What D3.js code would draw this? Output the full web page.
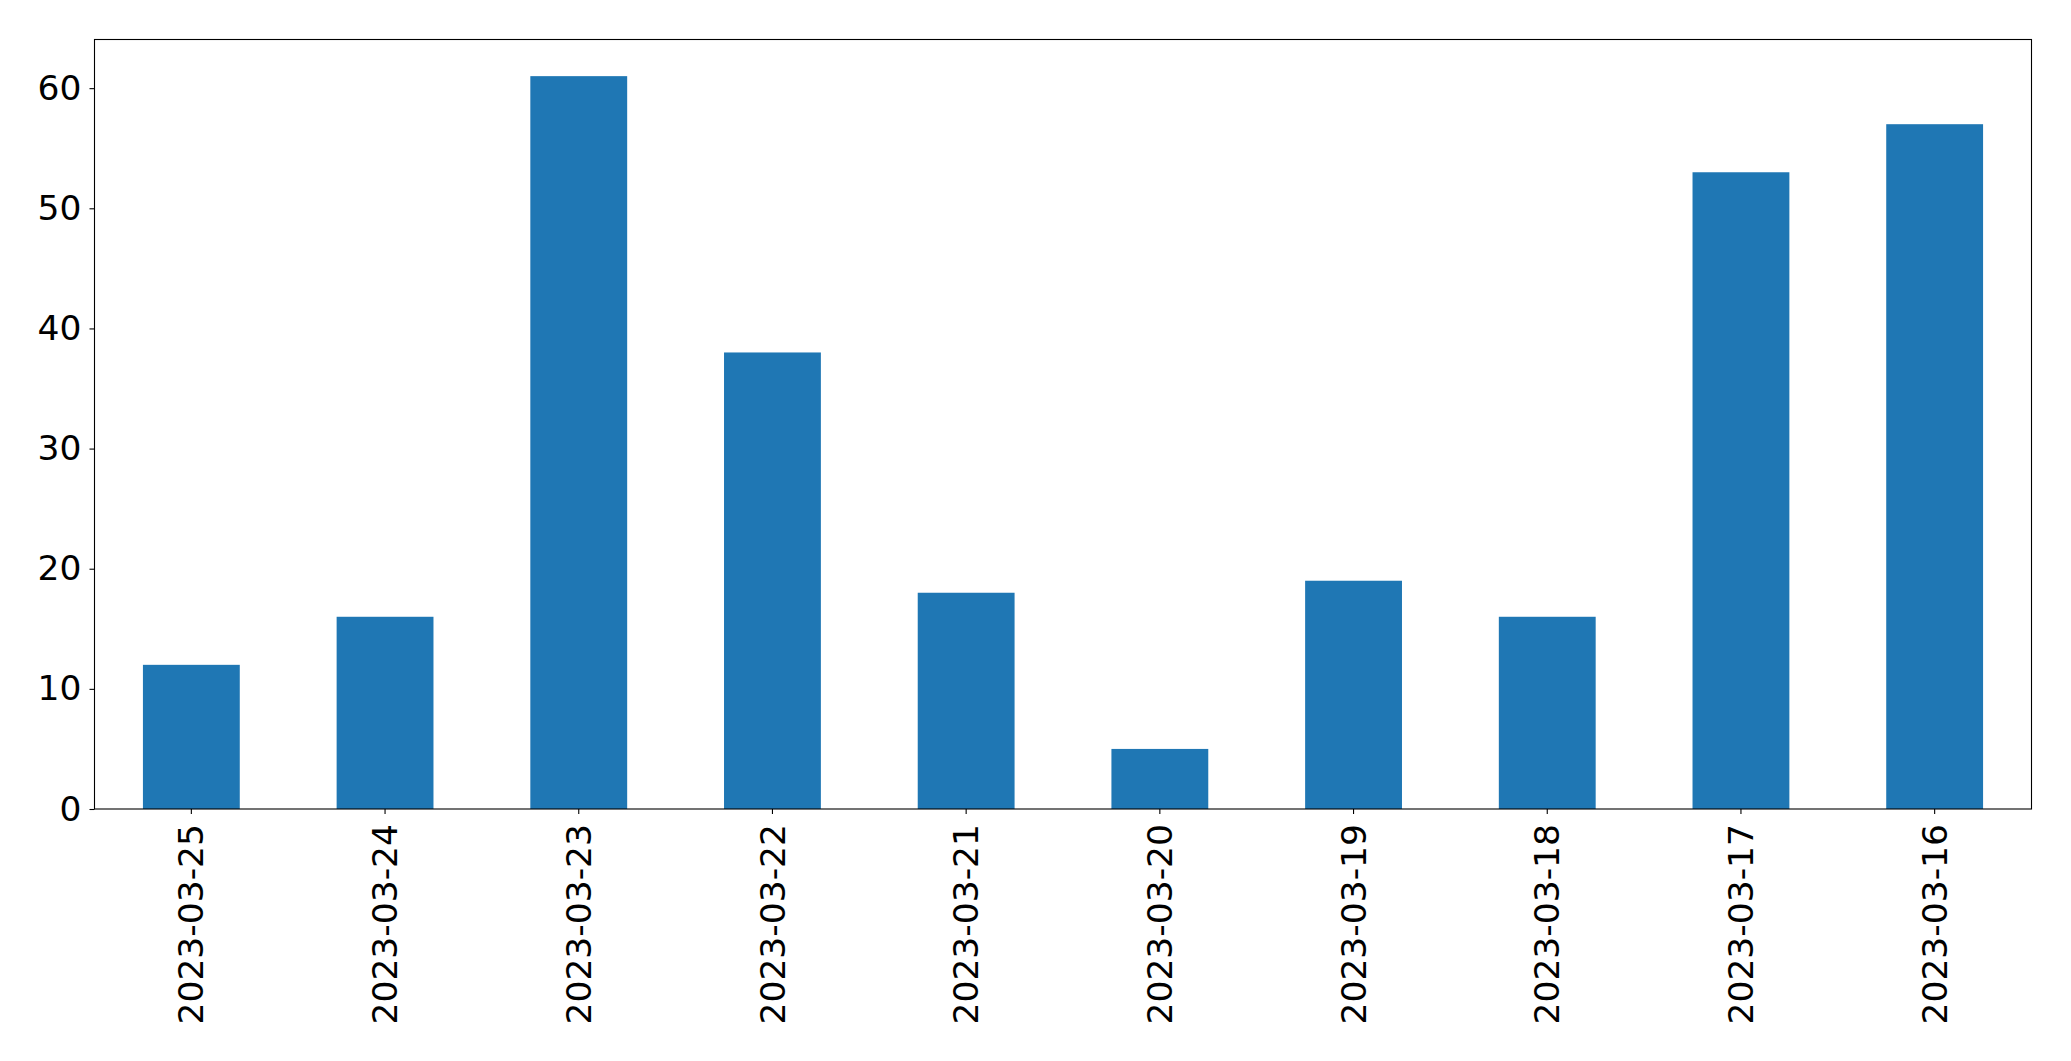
<!DOCTYPE html>
<html>
<head>
<meta charset="utf-8">
<script src="https://cdn.jsdelivr.net/npm/d3@7"></script>
<style>
  html, body { margin: 0; padding: 0; background: #fff; }
  #chart text { font-family: "DejaVu Sans", sans-serif; fill: #000; }
</style>
</head>
<body>
<div id="chart"></div>
<script>
// Data
const dates = ["2023-03-25", "2023-03-24", "2023-03-23", "2023-03-22", "2023-03-21",
               "2023-03-20", "2023-03-19", "2023-03-18", "2023-03-17", "2023-03-16"];
const counts = [12, 16, 61, 38, 18, 5, 19, 16, 53, 57];
const yTicks = [0, 10, 20, 30, 40, 50, 60];

const dataset = dates.map((d, i) => ({ date: d, value: counts[i] }));

// Dimensions
const dimensions = {
  width: 2071,
  height: 1061,
  margin: { top: 39.5, right: 39.5, bottom: 252, left: 94.5 }
};
dimensions.containerWidth = dimensions.width - dimensions.margin.left - dimensions.margin.right;
dimensions.containerHeight = dimensions.height - dimensions.margin.top - dimensions.margin.bottom;

const svg = d3.select("#chart")
  .append("svg")
  .attr("width", dimensions.width)
  .attr("height", dimensions.height);

const container = svg.append("g")
  .attr("transform", `translate(${dimensions.margin.left}, ${dimensions.margin.top})`);

// Scales
const xScale = d3.scaleBand()
  .domain(dates)
  .range([0, dimensions.containerWidth])
  .paddingInner(0.5)
  .paddingOuter(0.25);

const yMax = d3.max(counts) * 1.05;
const yScale = d3.scaleLinear()
  .domain([0, yMax])
  .range([dimensions.containerHeight, 0]);

// Bars
container.selectAll("rect.bar")
  .data(dataset)
  .join("rect")
  .attr("class", "bar")
  .attr("x", d => xScale(d.date))
  .attr("width", xScale.bandwidth())
  .attr("y", d => yScale(d.value))
  .attr("height", d => yScale(0) - yScale(d.value))
  .attr("fill", "#1f77b4");

// Axes
const fontSize = 34.5;

const xAxis = d3.axisBottom(xScale).tickSizeOuter(0).tickSize(5).tickPadding(8);
const xAxisGroup = container.append("g")
  .attr("transform", `translate(0, ${dimensions.containerHeight})`)
  .call(xAxis);
xAxisGroup.select(".domain").remove();
xAxisGroup.selectAll("line").attr("stroke", "#000").attr("stroke-width", 1.1);
xAxisGroup.selectAll("text")
  .style("font-size", fontSize + "px")
  .attr("transform", "rotate(-90)")
  .attr("x", -15)
  .attr("y", 0)
  .attr("dy", "0.35em")
  .attr("text-anchor", "end");

const yAxis = d3.axisLeft(yScale).tickValues(yTicks).tickSizeOuter(0).tickSize(5).tickPadding(8);
const yAxisGroup = container.append("g").call(yAxis);
yAxisGroup.select(".domain").remove();
yAxisGroup.selectAll("line").attr("stroke", "#000").attr("stroke-width", 1.1);
yAxisGroup.selectAll("text").style("font-size", fontSize + "px");

// Frame
container.append("rect")
  .attr("width", dimensions.containerWidth)
  .attr("height", dimensions.containerHeight)
  .attr("fill", "none")
  .attr("stroke", "#000")
  .attr("stroke-width", 1.1);
</script>
</body>
</html>
